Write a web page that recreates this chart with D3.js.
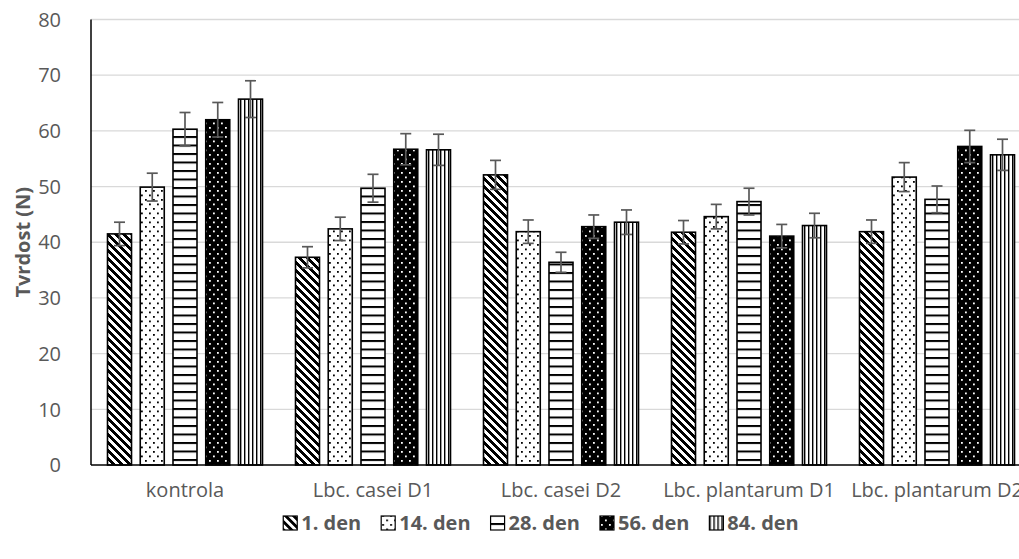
<!DOCTYPE html>
<html>
<head>
<meta charset="utf-8">
<script src="https://cdn.jsdelivr.net/npm/d3@7"></script>
<style>
  html, body { margin: 0; padding: 0; background: #fff; overflow: hidden; }
  svg { display: block; }
  text { font-family: "Open Sans", "Noto Sans", sans-serif; fill: #595959; }
</style>
</head>
<body>
<svg id="chart" width="1019" height="559"></svg>
<script>
// Sample groups and storage days
const categories = ["kontrola", "Lbc. casei D1", "Lbc. casei D2", "Lbc. plantarum D1", "Lbc. plantarum D2"];
const seriesNames = ["1. den", "14. den", "28. den", "56. den", "84. den"];

// Hardness (N) per storage day, one value per sample group
const den1  = [41.5, 37.3, 52.1, 41.8, 41.9];
const den14 = [49.9, 42.4, 41.9, 44.6, 51.7];
const den28 = [60.3, 49.7, 36.4, 47.3, 47.7];
const den56 = [62.0, 56.7, 42.8, 41.1, 57.2];
const den84 = [65.7, 56.6, 43.6, 43.0, 55.7];

// Error bar half-widths (N)
const err1  = [2.1, 1.9, 2.6, 2.1, 2.1];
const err14 = [2.5, 2.1, 2.1, 2.2, 2.6];
const err28 = [3.0, 2.5, 1.8, 2.4, 2.4];
const err56 = [3.1, 2.8, 2.1, 2.1, 2.9];
const err84 = [3.3, 2.8, 2.2, 2.2, 2.8];

const yTicks = [0, 10, 20, 30, 40, 50, 60, 70, 80];
const yTitle = "Tvrdost (N)";

const values = [den1, den14, den28, den56, den84];
const errors = [err1, err14, err28, err56, err84];
const patternIds = ["p-diag", "p-dots", "p-hlines", "p-invdots", "p-vlines"];

const svg = d3.select("#chart");
const plotLeft = 91, bandStep = 188, yTop = 19.5, yBottom = 465;

const x0 = d3.scaleBand().domain(categories)
  .range([plotLeft, plotLeft + bandStep * categories.length])
  .paddingInner(0).paddingOuter(0);
const x1 = d3.scaleBand().domain(seriesNames)
  .range([16.5, bandStep - 16.5])
  .paddingInner(0.267).paddingOuter(0);
const y = d3.scaleLinear().domain([0, 80]).range([yBottom, yTop]);

// ---- fill patterns ----
const defs = svg.append("defs");

// wide downward diagonal
const pDiag = defs.append("pattern").attr("id", "p-diag")
  .attr("patternUnits", "userSpaceOnUse").attr("width", 8).attr("height", 8);
pDiag.append("rect").attr("width", 8).attr("height", 8).attr("fill", "#fff");
for (let r = 0; r < 8; r++) {
  for (let k = 0; k < 4; k++) {
    pDiag.append("rect").attr("x", (r + k) % 8).attr("y", r)
      .attr("width", 1).attr("height", 1).attr("fill", "#000");
  }
}

// dotted on white
const pDots = defs.append("pattern").attr("id", "p-dots")
  .attr("patternUnits", "userSpaceOnUse").attr("width", 8).attr("height", 9);
pDots.append("rect").attr("width", 8).attr("height", 9).attr("fill", "#fff");
pDots.append("rect").attr("x", 1).attr("y", 1).attr("width", 1.8).attr("height", 1.8).attr("fill", "#000");
pDots.append("rect").attr("x", 5).attr("y", 5.5).attr("width", 1.8).attr("height", 1.8).attr("fill", "#000");

// wide horizontal lines
const pH = defs.append("pattern").attr("id", "p-hlines")
  .attr("patternUnits", "userSpaceOnUse").attr("width", 8).attr("height", 8.5);
pH.append("rect").attr("width", 8).attr("height", 8.5).attr("fill", "#fff");
pH.append("rect").attr("x", 0).attr("y", 0).attr("width", 8).attr("height", 2).attr("fill", "#000");

// white dots on black
const pInv = defs.append("pattern").attr("id", "p-invdots")
  .attr("patternUnits", "userSpaceOnUse").attr("width", 8).attr("height", 9);
pInv.append("rect").attr("width", 8).attr("height", 9).attr("fill", "#000");
pInv.append("rect").attr("x", 1).attr("y", 1).attr("width", 1.8).attr("height", 1.8).attr("fill", "#fff");
pInv.append("rect").attr("x", 5).attr("y", 5.5).attr("width", 1.8).attr("height", 1.8).attr("fill", "#fff");

// vertical lines
const pV = defs.append("pattern").attr("id", "p-vlines")
  .attr("patternUnits", "userSpaceOnUse").attr("width", 4).attr("height", 4);
pV.append("rect").attr("width", 4).attr("height", 4).attr("fill", "#fff");
pV.append("rect").attr("x", 0).attr("y", 0).attr("width", 1.4).attr("height", 4).attr("fill", "#000");

// ---- gridlines ----
svg.append("g").selectAll("line").data(yTicks.filter(d => d > 0)).join("line")
  .attr("x1", plotLeft).attr("x2", 1019)
  .attr("y1", d => y(d)).attr("y2", d => y(d))
  .attr("stroke", "#d9d9d9").attr("stroke-width", 1.3);

// ---- y tick labels ----
svg.append("g").selectAll("text").data(yTicks).join("text")
  .attr("x", 61).attr("y", d => y(d)).attr("dy", "0.36em")
  .attr("text-anchor", "end").style("font-size", "20px")
  .text(d => d);

// ---- y title ----
svg.append("text")
  .attr("transform", `translate(23, ${(yTop + yBottom) / 2}) rotate(-90)`)
  .attr("dy", "0.36em")
  .attr("text-anchor", "middle")
  .style("font-size", "20px").style("font-weight", "bold")
  .text(yTitle);

// ---- bars ----
const rows = [];
seriesNames.forEach((s, si) => {
  categories.forEach((c, ci) => {
    rows.push({ s, si, c, v: values[si][ci], e: errors[si][ci] });
  });
});

svg.append("g").selectAll("rect").data(rows).join("rect")
  .attr("x", d => x0(d.c) + x1(d.s))
  .attr("y", d => y(d.v))
  .attr("width", x1.bandwidth())
  .attr("height", d => y(0) - y(d.v))
  .attr("fill", d => `url(#${patternIds[d.si]})`)
  .attr("stroke", "#000").attr("stroke-width", 1.6);

// ---- error bars ----
const eg = svg.append("g").attr("stroke", "#595959").attr("stroke-width", 1.7);
rows.forEach(d => {
  const cx = x0(d.c) + x1(d.s) + x1.bandwidth() / 2;
  eg.append("line").attr("x1", cx).attr("x2", cx)
    .attr("y1", y(d.v + d.e)).attr("y2", y(d.v - d.e));
  eg.append("line").attr("x1", cx - 5.5).attr("x2", cx + 5.5)
    .attr("y1", y(d.v + d.e)).attr("y2", y(d.v + d.e));
  eg.append("line").attr("x1", cx - 5.5).attr("x2", cx + 5.5)
    .attr("y1", y(d.v - d.e)).attr("y2", y(d.v - d.e));
});

// ---- axes lines ----
svg.append("line").attr("x1", plotLeft).attr("x2", plotLeft)
  .attr("y1", yTop).attr("y2", yBottom)
  .attr("stroke", "#000").attr("stroke-width", 1.5);
svg.append("line").attr("x1", plotLeft).attr("x2", 1019)
  .attr("y1", yBottom).attr("y2", yBottom)
  .attr("stroke", "#000").attr("stroke-width", 1.5);

// ---- category labels ----
svg.append("g").selectAll("text").data(categories).join("text")
  .attr("x", d => x0(d) + x0.bandwidth() / 2)
  .attr("y", 497)
  .attr("text-anchor", "middle").style("font-size", "20px")
  .text(d => d);

// ---- legend ----
const legend = svg.append("g");
const sw = 14, swGap = 4, itemGap = 20, legendCenter = 541, legendY = 523;
let cursor = 0;
const items = seriesNames.map((s, i) => {
  const g = legend.append("g");
  g.append("rect").attr("x", 0).attr("y", -sw / 2).attr("width", sw).attr("height", sw)
    .attr("fill", `url(#${patternIds[i]})`).attr("stroke", "#000").attr("stroke-width", 1.2);
  const t = g.append("text").attr("x", sw + swGap).attr("dy", "0.36em")
    .style("font-size", "20px").style("font-weight", "bold").text(s);
  const w = sw + swGap + t.node().getComputedTextLength();
  const item = { g, off: cursor };
  cursor += w + itemGap;
  return item;
});
const total = cursor - itemGap;
const startX = legendCenter - total / 2;
items.forEach(it => it.g.attr("transform", `translate(${startX + it.off}, ${legendY})`));
</script>
</body>
</html>
